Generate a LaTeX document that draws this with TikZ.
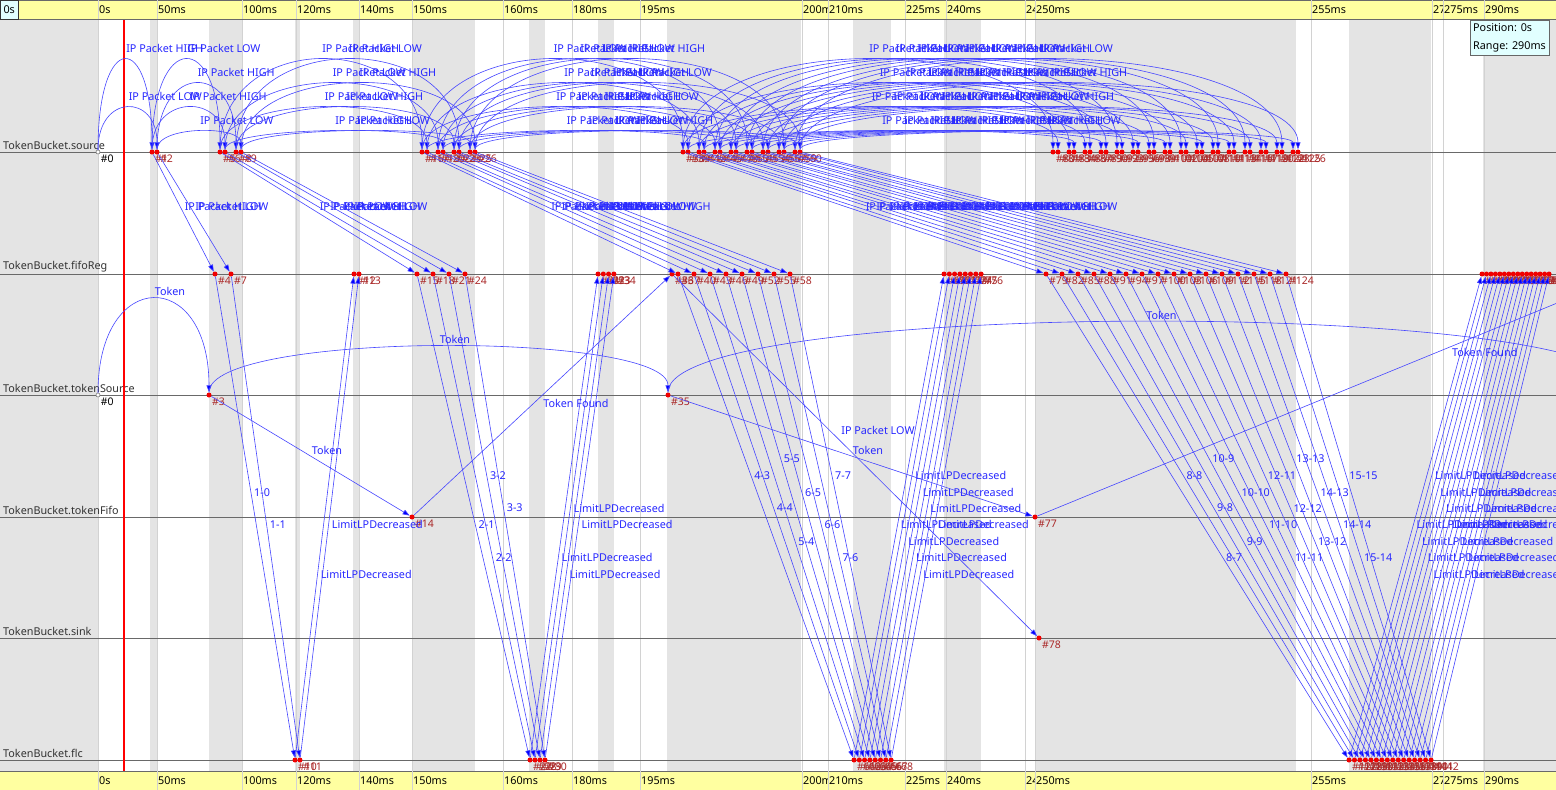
\documentclass[tikz,border=0pt]{standalone}
\usepackage{fontspec}
\setmainfont{Noto Sans}
\usetikzlibrary{arrows.meta}
\definecolor{msgblue}{RGB}{70,70,255}
\definecolor{labblue}{RGB}{40,40,255}
\definecolor{evred}{RGB}{240,0,0}
\definecolor{evtext}{RGB}{170,40,40}
\definecolor{bandgray}{RGB}{228,228,228}
\definecolor{tickgray}{RGB}{210,210,210}
\definecolor{axisyellow}{RGB}{255,255,160}
\definecolor{lanegray}{RGB}{105,105,105}
\definecolor{infocyan}{RGB}{225,255,255}
\tikzstyle{evt} = [circle, fill=evred, inner sep=0pt, minimum size=5pt]
\tikzstyle{initevt} = [circle, draw=lanegray, fill=white, inner sep=0pt, minimum size=4pt, line width=0.5pt]
\tikzstyle{evlab} = [text=evtext, font=\fontsize{10.5}{11}\selectfont, inner sep=1pt]
\tikzstyle{msg} = [draw=msgblue, line width=0.6pt, ->, >={Triangle[length=7pt,width=5pt,fill=blue]}]
\tikzstyle{msglab} = [text=labblue, font=\fontsize{10.8}{12}\selectfont, inner sep=1pt]
\tikzstyle{lanelab} = [text=black!80, font=\fontsize{10.8}{12}\selectfont, anchor=south west, inner sep=1pt]
\tikzstyle{ticklab} = [font=\fontsize{10.8}{12}\selectfont, anchor=west, inner sep=1pt]
\tikzstyle{lane} = [draw=lanegray, line width=0.8pt]
\tikzstyle{tickline} = [draw=tickgray, line width=0.6pt]

\begin{document}
\begin{tikzpicture}[x=1pt,y=-1pt]
\useasboundingbox (0,0) rectangle (1556,790);
\clip (0,0) rectangle (1556,790);
\fill[white] (0,0) rectangle (1556,790);
% background bands and ticks
\foreach \a/\b in {0/98,150/157,209/242,295/300,353/359,412/475,529/545,598/614,667/801,853/891,944/981,1035/1296,1349/1431,1483/1556}
  \fill[bandgray] (\a,19) rectangle (\b,771);
\foreach \tx in {98,157,242,296,359,412,503,572,640,802,828,905,946,1025,1035,1311,1432,1443,1484}
  \draw[tickline] (\tx,0) -- (\tx,790);
% axes
\foreach \ly/\name in {152/source,274/fifoReg,395/tokenSource,517/tokenFifo,638/sink,760/flc}{
  \draw[lane] (0,\ly) -- (1556,\ly);
  \node[lanelab] (lane-\name) at (2,\ly-1) {TokenBucket.\name};
}
\draw[red, line width=1.2pt] (124,19) -- (124,771);

% events on source
\node[initevt, label={[evlab,text=black]south east:\#0}] (src-0-0) at (98,152) {};
\foreach \k/\bx/\num/\last in {1/152/1/0, 2/220/5/1, 3/422/16/3, 4/683/38/7, 5/1053/80/15}
  \foreach \j in {0,...,\last}
    \foreach \e in {0,1}{
      \pgfmathtruncatemacro{\m}{2*\j+\e}
      \pgfmathtruncatemacro{\id}{\num+3*\j+\e}
      \node[evt, label={[evlab]south east:\#\id}] (src-\k-\m) at ({\bx+16*\j+5*\e},152) {};
    }
% events on fifoReg
\foreach \k/\bx/\num/\last in {1/215/4/1, 2/417/15/3, 3/678/37/7, 4/1046/79/15}
  \foreach \i in {0,...,\last}{
    \pgfmathtruncatemacro{\id}{\num+3*\i}
    \node[evt, label={[evlab]south east:\#\id}] (fr-\k-\i) at ({\bx+16*\i},274) {};
  }
\foreach \k/\bx/\dx/\num/\last in {1/354/5/12/1, 2/598/5.3/31/3, 3/944/5.3/69/7, 4/1482/4.47/143/15}
  \foreach \i in {0,...,\last}{
    \pgfmathtruncatemacro{\id}{\num+\i}
    \node[evt, label={[evlab]south east:\#\id}] (lim-\k-\i) at ({\bx+\dx*\i},274) {};
  }
\node[evt, label={[evlab]south east:\#36}] (fr-36) at (672,274) {};
% events on flc
\foreach \k/\bx/\dx/\num/\last in {1/295/5/10/1, 2/530/5/27/3, 3/854/5.3/61/7, 4/1349/5.47/127/15}
  \foreach \i in {0,...,\last}{
    \pgfmathtruncatemacro{\id}{\num+\i}
    \node[evt, label={[evlab]south east:\#\id}] (flc-\k-\i) at ({\bx+\dx*\i},760) {};
  }
% token events
\node[initevt, label={[evlab,text=black]south east:\#0}] (tsrc-0) at (98,395) {};
\node[evt, label={[evlab]south east:\#3}] (tsrc-3) at (209,395) {};
\node[evt, label={[evlab]south east:\#35}] (tsrc-35) at (668,395) {};
\node[evt, label={[evlab]south east:\#14}] (tfifo-14) at (412,517) {};
\node[evt, label={[evlab]south east:\#77}] (tfifo-77) at (1035,517) {};
\node[evt, label={[evlab]south east:\#78}] (sink-78) at (1039,638) {};
\coordinate (tokEnd) at (1622,395);
\coordinate (foundEnd) at (1628,274);

% packets scheduled on source
\foreach \k/\p/\last in {1/0/0, 2/1/1, 3/2/3, 4/3/7, 5/4/15}
  \foreach \j in {0,...,\last}
    \foreach \e in {0,1}{
      \pgfmathtruncatemacro{\m}{2*\j+\e}
      \pgfmathtruncatemacro{\lv}{mod(2*\e+\j,4)}
      \pgfmathsetmacro{\cp}{4/3*(92-24*\lv)}
      \pgfmathtruncatemacro{\hl}{mod(\j+\e+\k,2)}
      \ifnum\hl=1 \def\kind{HIGH}\else\def\kind{LOW}\fi
      \draw[msg] (src-\p-\j) .. controls +(0,-\cp) and +(0,-\cp) .. (src-\k-\m)
        node[msglab, pos=0.5, anchor=south west, yshift=5pt] {IP Packet \kind};
    }
% source -> fifoReg
\foreach \k/\last in {1/1, 2/3, 3/7, 4/15}
  \foreach \i in {0,...,\last}{
    \pgfmathtruncatemacro{\hl}{mod(floor(\i/2)+mod(\i,2)+\k,2)}
    \ifnum\hl=1 \def\kind{HIGH}\else\def\kind{LOW}\fi
    \draw[msg] (src-\k-\i) -- node[msglab, anchor=south west, yshift=1pt] {IP Packet \kind} (fr-\k-\i);
  }
% fifoReg -> flc
\foreach \k/\half/\ys in {1/1/{492,525}, 2/2/{525,558,475,508}, 3/4/{475,508,542,458,492,525,558,475},
    4/8/{558,475,508,542,458,492,525,558,475,508,542,458,492,525,558,475}}
  \foreach \ly [count=\c from 0] in \ys{
    \pgfmathtruncatemacro{\na}{\half+floor(\c/2)}
    \pgfmathtruncatemacro{\nb}{\na-1+mod(\c,2)}
    \pgfmathsetmacro{\tp}{(\ly-274)/486}
    \draw[msg] (fr-\k-\c) -- node[msglab, pos=\tp, anchor=west, xshift=2pt] {\na-\nb} (flc-\k-\c);
  }
% flc -> fifoReg
\foreach \k/\ys in {1/{575,525}, 2/{558,508,575,525}, 3/{525,475,542,492,558,508,575,525},
    4/{525,475,542,492,558,508,575,525,525,475,542,492,558,508,575,525}}
  \foreach \ly [count=\c from 0] in \ys{
    \pgfmathsetmacro{\tp}{(760-\ly)/486}
    \draw[msg] (flc-\k-\c) -- node[msglab, pos=\tp, anchor=west, xshift=2pt] {LimitLPDecreased} (lim-\k-\c);
  }
% tokens
\draw[msg] (tsrc-0) .. controls +(0,-128) and +(0,-128) .. (tsrc-3)
  node[msglab, pos=0.5, anchor=south west, yshift=1pt] {Token};
\draw[msg] (tsrc-3) .. controls +(0,-64) and +(0,-64) .. (tsrc-35)
  node[msglab, pos=0.5, anchor=south west, yshift=1pt] {Token};
\draw[msg] (tsrc-35) .. controls +(0,-97) and +(0,-97) .. (tokEnd)
  node[msglab, pos=0.5, anchor=south west, yshift=1pt] {Token};
\draw[msg] (tsrc-3) -- node[msglab, anchor=south west] {Token} (tfifo-14);
\draw[msg] (tfifo-14) -- node[msglab, anchor=north west, yshift=-2pt] {Token Found} (fr-36);
\draw[msg] (tsrc-35) -- node[msglab, anchor=south west] {Token} (tfifo-77);
\draw[msg] (fr-36) -- node[msglab, pos=0.43, anchor=west, xshift=10pt] {IP Packet LOW} (sink-78);
\draw[msg] (tfifo-77) -- node[msglab, pos=0.7, anchor=north west] {Token Found} (foundEnd);

% time axes
\fill[axisyellow] (0,0) rectangle (1556,19);
\fill[axisyellow] (0,771) rectangle (1556,790);
\draw[lanegray] (0,0.5) -- (1556,0.5);
\draw[lanegray] (0,19) -- (1556,19);
\draw[lanegray] (0,771) -- (1556,771);
\foreach \tx/\nx/\tl in {98/157/0s, 157/242/50ms, 242/296/100ms, 296/359/120ms, 359/412/140ms, 412/503/150ms, 503/572/160ms, 572/640/180ms, 640/802/195ms, 802/828/200ms, 828/905/210ms, 905/946/225ms, 946/1025/240ms, 1025/1035/245ms, 1035/1311/250ms, 1311/1432/255ms, 1432/1443/270ms, 1443/1484/275ms, 1484/1556/290ms}{
  \draw[tickline] (\tx,0) -- (\tx,19);
  \draw[tickline] (\tx,771) -- (\tx,790);
  \begin{scope}
    \clip (\tx,0) rectangle (\nx,790);
    \node[ticklab] (top-\tl) at (\tx,10) {\tl};
    \node[ticklab] (bot-\tl) at (\tx,781) {\tl};
  \end{scope}
}
\node[draw=black!80, fill=infocyan, minimum width=18pt, minimum height=19pt, inner sep=0pt,
  font=\bfseries\fontsize{10.8}{12}\selectfont, anchor=north west] (zero) at (0,0) {0s};
\node[draw=black!60, fill=infocyan, align=left, anchor=north west, inner sep=3pt,
  font=\fontsize{10.8}{18}\selectfont] (posbox) at (1470,20) {Position: 0s\\Range: 290ms};
\end{tikzpicture}
\end{document}
